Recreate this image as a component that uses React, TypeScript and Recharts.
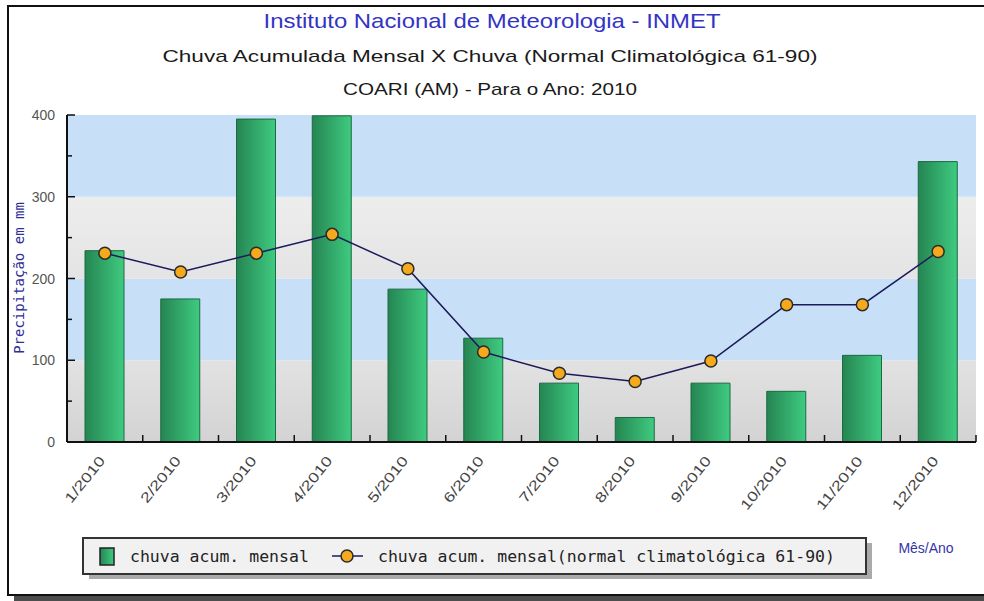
import React from "react";
import { Bar, ComposedChart, Line, ReferenceArea, XAxis, YAxis } from "recharts";

const MESES = ["1/2010", "2/2010", "3/2010", "4/2010", "5/2010", "6/2010", "7/2010", "8/2010", "9/2010", "10/2010", "11/2010", "12/2010"];
const CHUVA_ACUM = [234, 175, 395, 399, 187, 127, 72, 30, 72, 62, 106, 343];
const CHUVA_NORMAL = [231, 208, 231, 254, 212, 110, 84, 74, 99, 168, 168, 233];
const Y_TICKS = [0, 50, 100, 150, 200, 250, 300, 350, 400];
const FAIXAS = [
  { de: 0, ate: 100, fill: "url(#cinzaEscuro)" },
  { de: 100, ate: 200, fill: "#c7e0f8" },
  { de: 200, ate: 300, fill: "url(#cinzaClaro)" },
  { de: 300, ate: 400, fill: "#c7e0f8" },
];

const data = MESES.map((mes, i) => ({ mes, acum: CHUVA_ACUM[i], normal: CHUVA_NORMAL[i] }));

const W = 984;
const H = 601;
const MARGIN = { top: 115, right: 8, bottom: 79, left: 0 };
const Y_WIDTH = 67;
const PLOT_W = W - MARGIN.left - MARGIN.right - Y_WIDTH;
const BAND = PLOT_W / MESES.length;

const SANS = "'Liberation Sans', Arial, sans-serif";
const MONO = "'DejaVu Sans Mono', monospace";

function YTick({ x, y, payload }: any) {
  const major = payload.value % 100 === 0;
  const axisX = x + 12;
  return (
    <g>
      {major && (
        <text x={x} y={y + 5} textAnchor="end" fontSize={14} fill="#555" fontFamily={SANS}>
          {payload.value}
        </text>
      )}
      {payload.value !== 0 && (
        <line x1={axisX} x2={axisX + (major ? 8 : 5)} y1={y} y2={y} stroke="#111" strokeWidth={1.5} />
      )}
    </g>
  );
}

function XTick({ x, y, payload }: any) {
  const axisY = y - 14;
  const bx = x + BAND / 2;
  const label = String(payload.value);
  return (
    <g>
      <line x1={bx} x2={bx} y1={axisY} y2={axisY - 7} stroke="#111" strokeWidth={1.5} />
      <text
        x={x + 1}
        y={y + 5}
        textAnchor="end"
        fontSize={14}
        fill="#444"
        fontFamily={SANS}
        textLength={label.length * 9.2}
        lengthAdjust="spacingAndGlyphs"
        transform={`rotate(-51, ${x + 1}, ${y + 5})`}
      >
        {label}
      </text>
    </g>
  );
}

export default function App() {
  return (
    <div style={{ position: "absolute", left: 0, top: 0, width: W, height: H, overflow: "hidden", background: "#fff" }}>
      <div
        style={{
          position: "absolute",
          left: 7,
          top: 5,
          width: 1000,
          height: 587,
          border: "2px solid #111",
          boxShadow: "7px 5px 0 #4d4d4d",
          background: "#fff",
        }}
      />
      <div style={{ position: "absolute", left: 0, top: 0 }}>
        <ComposedChart width={W} height={H} data={data} margin={MARGIN}>
          <defs>
            <linearGradient id="barra" x1="0" y1="0" x2="1" y2="0">
              <stop offset="0%" stopColor="#258552" />
              <stop offset="100%" stopColor="#3fcb80" />
            </linearGradient>
            <linearGradient id="cinzaEscuro" x1="0" y1="0" x2="0" y2="1">
              <stop offset="0%" stopColor="#e2e2e2" />
              <stop offset="100%" stopColor="#d3d3d3" />
            </linearGradient>
            <linearGradient id="cinzaClaro" x1="0" y1="0" x2="0" y2="1">
              <stop offset="0%" stopColor="#ededed" />
              <stop offset="100%" stopColor="#e4e4e4" />
            </linearGradient>
          </defs>
          {FAIXAS.map((f) => (
            <ReferenceArea key={f.de} y1={f.de} y2={f.ate} fill={f.fill} fillOpacity={1} stroke="none" />
          ))}
          <XAxis
            dataKey="mes"
            height={80}
            interval={0}
            tickSize={0}
            tickMargin={14}
            tick={<XTick />}
            axisLine={{ stroke: "#111", strokeWidth: 2 }}
            tickLine={false}
          />
          <YAxis
            width={Y_WIDTH}
            domain={[0, 400]}
            ticks={Y_TICKS}
            interval={0}
            tickSize={0}
            tickMargin={12}
            tick={<YTick />}
            axisLine={{ stroke: "#111", strokeWidth: 2 }}
            tickLine={false}
          />
          <Bar dataKey="acum" fill="url(#barra)" stroke="#1c6a42" strokeWidth={1} barSize={39} isAnimationActive={false} />
          <Line
            type="linear"
            dataKey="normal"
            stroke="#1b1b5c"
            strokeWidth={1.5}
            dot={{ r: 6, fill: "#f5a91d", stroke: "#2a2a2a", strokeWidth: 1.5 }}
            isAnimationActive={false}
          />
        </ComposedChart>
      </div>
      <svg width={W} height={H} style={{ position: "absolute", left: 0, top: 0, pointerEvents: "none" }}>
        <text x={492} y={28} textAnchor="middle" fontSize={21} fill="#3434c4" fontFamily={SANS} textLength={457} lengthAdjust="spacingAndGlyphs">
          Instituto Nacional de Meteorologia - INMET
        </text>
        <text x={490} y={62} textAnchor="middle" fontSize={17} fill="#1a1a1a" fontFamily={SANS} textLength={655} lengthAdjust="spacingAndGlyphs">
          Chuva Acumulada Mensal X Chuva (Normal Climatológica 61-90)
        </text>
        <text x={490} y={95} textAnchor="middle" fontSize={17} fill="#1a1a1a" fontFamily={SANS} textLength={294} lengthAdjust="spacingAndGlyphs">
          COARI (AM) - Para o Ano: 2010
        </text>
        <text x={24} y={278} textAnchor="middle" fontSize={14} fill="#2e2e96" fontFamily={MONO} transform="rotate(-90, 24, 278)">
          Precipitação em mm
        </text>
        <rect x={89} y={543} width={783} height={36} fill="#aaa" />
        <rect x={83} y={538} width={783} height={36} fill="#f1f1f1" stroke="#333" strokeWidth={2} />
        <rect x={100} y={548} width={14} height={17} fill="url(#legBarra)" stroke="#222" strokeWidth={1.5} />
        <defs>
          <linearGradient id="legBarra" x1="0" y1="0" x2="1" y2="0">
            <stop offset="0%" stopColor="#258552" />
            <stop offset="100%" stopColor="#3fcb80" />
          </linearGradient>
        </defs>
        <text x={130} y={562} fontSize={16.5} fill="#222" fontFamily={MONO}>
          chuva acum. mensal
        </text>
        <line x1={332} x2={363} y1={556} y2={556} stroke="#1b1b5c" strokeWidth={1.5} />
        <circle cx={347} cy={556} r={6} fill="#f5a91d" stroke="#2a2a2a" strokeWidth={1.5} />
        <text x={378} y={562} fontSize={16.5} fill="#222" fontFamily={MONO}>
          chuva acum. mensal(normal climatológica 61-90)
        </text>
        <text x={926} y={553} textAnchor="middle" fontSize={14} fill="#3434a8" fontFamily={SANS}>
          Mês/Ano
        </text>
      </svg>
    </div>
  );
}
